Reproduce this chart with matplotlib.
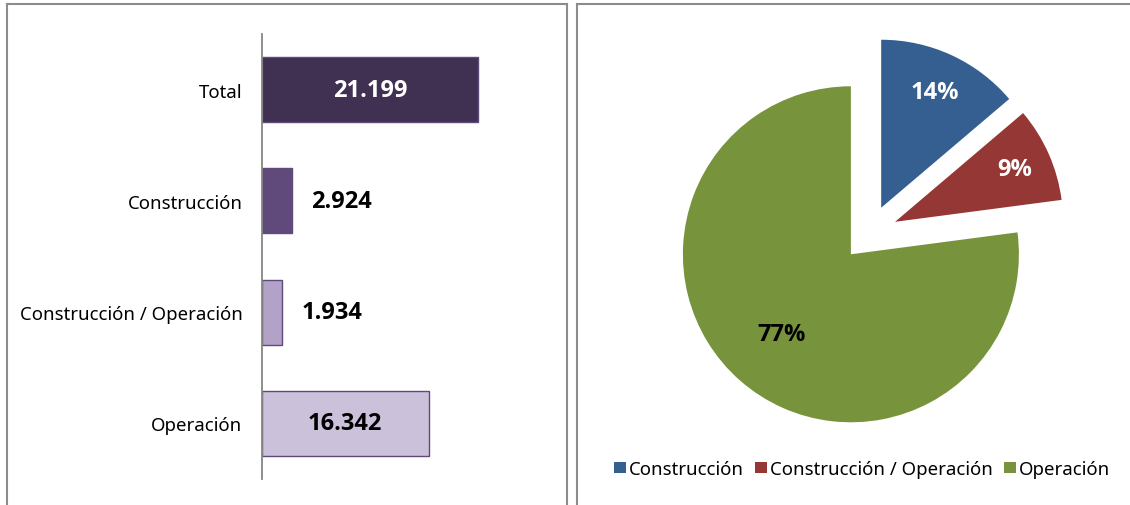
import matplotlib
matplotlib.use("Agg")
import matplotlib.pyplot as plt
from matplotlib.lines import Line2D
from matplotlib.patches import Patch
import numpy as np

plt.rcParams['font.family'] = ['Noto Sans', 'DejaVu Sans']
BOLD = ['Open Sans', 'Lato', 'DejaVu Sans']

# bar chart data
categories = ['Total', 'Construcción', 'Construcción / Operación', 'Operación']
values = [21199, 2924, 1934, 16342]
bar_colors = ['#403152', '#604a7b', '#b3a2c7', '#ccc1da']
value_colors = ['white', 'black', 'black', 'black']
label_inside = [True, False, False, True]

# pie data
pie_labels = ['Construcción', 'Construcción / Operación', 'Operación']
pie_values = [2924, 1934, 16342]
pie_colors = ['#365f91', '#953735', '#77933c']
pct_colors = ['white', 'white', 'black']
pct_dist = [0.76, 0.78, 0.63]

W, H = 1130, 506
fig = plt.figure(figsize=(W / 100, H / 100), dpi=100)

def px(x0, y0, w, h):
    # pixel box (top-left origin) -> figure fraction
    return [x0 / W, (H - y0 - h) / H, w / W, h / H]

# panel borders
border = dict(color='#8c8c8c', linewidth=1.5, transform=fig.transFigure)
fig.add_artist(Line2D([7 / W, 7 / W], [0, 1 - 5 / H], **border))
fig.add_artist(Line2D([7 / W, 567 / W], [1 - 5 / H, 1 - 5 / H], **border))
fig.add_artist(Line2D([567 / W, 567 / W], [0, 1 - 5 / H], **border))
fig.add_artist(Line2D([577 / W, 577 / W], [0, 1 - 5 / H], **border))
fig.add_artist(Line2D([577 / W, 1], [1 - 5 / H, 1 - 5 / H], **border))

# ---- left: horizontal bars ----
ax = fig.add_axes(px(262, 35, 280, 445))
y = np.arange(len(categories))
ax.barh(y, values, height=0.585, color=bar_colors, edgecolor='#5f4a7a', linewidth=1)
ax.set_ylim(3.5, -0.5)
ax.set_xlim(0, 27480)
ax.set_yticks(y)
ax.set_yticklabels(categories, fontsize=13.4)
ax.tick_params(axis='y', length=0, pad=14)
ax.set_xticks([])
for s in ['top', 'right', 'bottom']:
    ax.spines[s].set_visible(False)
ax.spines['left'].set_color('#868686')
ax.spines['left'].set_linewidth(1.3)

for i, v in enumerate(values):
    txt = f"{v:,}".replace(',', '.')
    if label_inside[i]:
        ax.text(v / 2, i, txt, ha='center', va='center', fontsize=17,
                fontweight='bold', family=BOLD, color=value_colors[i])
    else:
        ax.annotate(txt, (v, i), xytext=(14, 0), textcoords='offset points',
                    ha='left', va='center', fontsize=17, fontweight='bold',
                    family=BOLD, color=value_colors[i])

# ---- right: exploded pie ----
half = 230
pax = fig.add_axes(px(869.4 - half, 234.2 - half, 2 * half, 2 * half))
wedges, texts, autotexts = pax.pie(pie_values, colors=pie_colors, startangle=90,
                                   counterclock=False, explode=[0.167] * 3,
                                   autopct='%1.0f%%', pctdistance=0.75,
                                   textprops=dict(fontsize=17, fontweight='bold',
                                                  family=BOLD))
for w, t, c, d in zip(wedges, autotexts, pct_colors, pct_dist):
    th = np.deg2rad((w.theta1 + w.theta2) / 2)
    cx, cy = w.center
    t.set_position((cx + d * np.cos(th), cy + d * np.sin(th)))
    t.set_color(c)
lim = half / 168
pax.set_xlim(-lim, lim)
pax.set_ylim(-lim, lim)
pax.axis('off')

handles = [Patch(facecolor=c, edgecolor='none') for c in pie_colors]
fig.legend(handles, pie_labels, loc='center', bbox_to_anchor=(862.5 / W, 1 - 470 / H),
           ncol=3, frameon=False, fontsize=13.4, handlelength=0.6, handleheight=0.6,
           handletextpad=0.2, columnspacing=0.6, borderpad=0)

fig.savefig('out.png', dpi=100)
